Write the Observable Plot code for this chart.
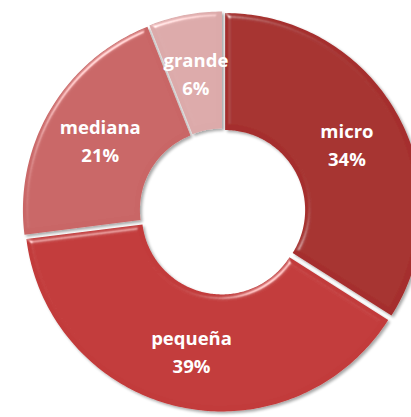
<!DOCTYPE html>
<html>
<head>
<meta charset="utf-8">
<script src="https://cdn.jsdelivr.net/npm/d3@7"></script>
<script src="https://cdn.jsdelivr.net/npm/@observablehq/plot@0.6"></script>
<style>
  html, body { margin: 0; padding: 0; background: #fff; }
  #chart svg { display: block; }
</style>
</head>
<body>
<div id="chart"></div>
<script>
// Data
const categories = ["micro", "pequeña", "mediana", "grande"];
const values = [34, 39, 21, 6];
const percentLabels = ["34%", "39%", "21%", "6%"];
const colors = ["#a52f2d", "#c23a3a", "#c96666", "#dcaaaa"];

// Geometry (chart units = pixels of radius)
const outerR = 197, innerR = 80, explode = 3, labelR = 139;

const arcs = d3.pie().sort(null).value(d => d)(values);

const polyPoints = [];
const labelRows = [];
arcs.forEach((a, i) => {
  const mid = (a.startAngle + a.endAngle) / 2;
  const dx = explode * Math.sin(mid), dy = explode * Math.cos(mid);
  const n = Math.max(8, Math.ceil((a.endAngle - a.startAngle) * 60));
  for (let k = 0; k <= n; k++) {
    const t = a.startAngle + (a.endAngle - a.startAngle) * k / n;
    polyPoints.push({cat: categories[i], x: dx + outerR * Math.sin(t), y: dy + outerR * Math.cos(t)});
  }
  for (let k = n; k >= 0; k--) {
    const t = a.startAngle + (a.endAngle - a.startAngle) * k / n;
    polyPoints.push({cat: categories[i], x: dx + innerR * Math.sin(t), y: dy + innerR * Math.cos(t)});
  }
  polyPoints.push({cat: categories[i], x: dx + outerR * Math.sin(a.startAngle), y: dy + outerR * Math.cos(a.startAngle)});
  labelRows.push({
    text: categories[i] + "\n" + percentLabels[i],
    x: dx + labelR * Math.sin(mid),
    y: dy + labelR * Math.cos(mid)
  });
});

const chart = Plot.plot({
  width: 411,
  height: 417,
  margin: 0,
  x: {domain: [-222, 189], axis: null},
  y: {domain: [-206, 211], axis: null},
  color: {domain: categories, range: colors},
  style: {background: "#ffffff"},
  marks: [
    Plot.line(polyPoints, {x: "x", y: "y", z: "cat", fill: "cat", stroke: "none", curve: "linear"}),
    Plot.text(labelRows, {
      x: "x", y: "y", text: "text",
      fill: "#ffffff",
      fontSize: 18.5,
      fontWeight: "bold",
      fontFamily: "'Open Sans', 'DejaVu Sans', sans-serif",
      lineHeight: 1.5
    })
  ]
});

// Bevel + shadow styling
const svg = d3.select(chart);
const defs = svg.insert("defs", ":first-child");
const f = defs.append("filter").attr("id", "bevel")
  .attr("x", "-10%").attr("y", "-10%").attr("width", "120%").attr("height", "120%");
f.append("feGaussianBlur").attr("in", "SourceAlpha").attr("stdDeviation", 2.5).attr("result", "blur");
const spec = f.append("feSpecularLighting").attr("in", "blur").attr("surfaceScale", 4)
  .attr("specularConstant", 0.7).attr("specularExponent", 30)
  .attr("lighting-color", "#ffffff").attr("result", "spec");
spec.append("feDistantLight").attr("azimuth", 235).attr("elevation", 30);
f.append("feComposite").attr("in", "spec").attr("in2", "SourceAlpha").attr("operator", "in").attr("result", "specOut");
f.append("feComposite").attr("in", "SourceGraphic").attr("in2", "specOut")
  .attr("operator", "arithmetic").attr("k1", 0).attr("k2", 1).attr("k3", 0.8).attr("k4", 0).attr("result", "lit");
f.append("feGaussianBlur").attr("in", "SourceAlpha").attr("stdDeviation", 1.6).attr("result", "sblur");
f.append("feOffset").attr("in", "sblur").attr("dx", 1.5).attr("dy", 2).attr("result", "soff");
f.append("feComponentTransfer").attr("in", "soff").attr("result", "sfade")
  .append("feFuncA").attr("type", "linear").attr("slope", 0.35);
const merge = f.append("feMerge");
merge.append("feMergeNode").attr("in", "sfade");
merge.append("feMergeNode").attr("in", "lit");

svg.selectAll("g[aria-label='line'] path").attr("filter", "url(#bevel)");

document.getElementById("chart").appendChild(chart);
</script>
</body>
</html>
